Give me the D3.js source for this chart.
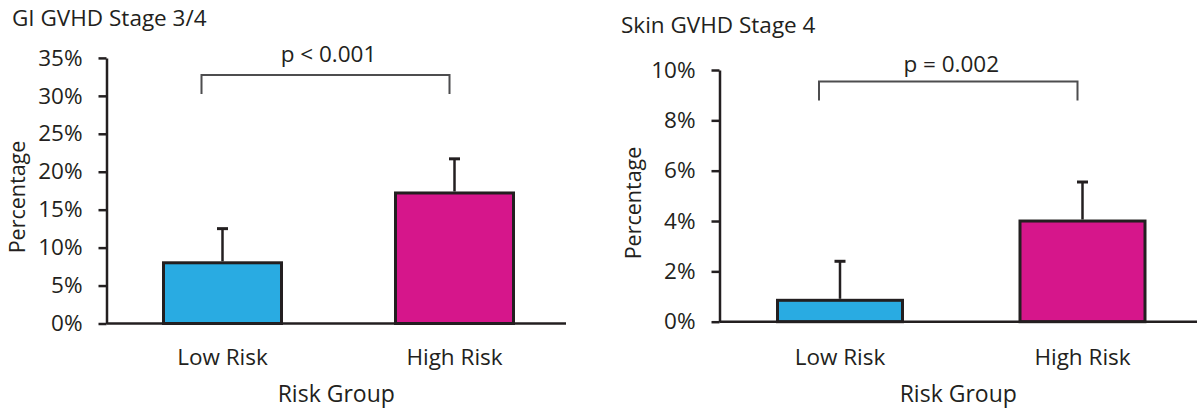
<!DOCTYPE html>
<html>
<head>
<meta charset="utf-8">
<script src="https://cdn.jsdelivr.net/npm/d3@7"></script>
<style>
  html, body { margin: 0; padding: 0; background: #fff; }
  svg { display: block; }
  text { font-family: "Open Sans", "Noto Sans", sans-serif; fill: #231f20; }
</style>
</head>
<body>
<div id="chart"></div>
<script>
const categories = ["Low Risk", "High Risk"];
const barColors = ["#29abe2", "#d6168b"];

// GI GVHD Stage 3/4
const giValues = [8.0, 17.2];
const giErrorTops = [12.5, 21.7];
const giTicks = [0, 5, 10, 15, 20, 25, 30, 35];
const giPValue = "p < 0.001";

// Skin GVHD Stage 4
const skinValues = [0.85, 4.0];
const skinErrorTops = [2.4, 5.55];
const skinTicks = [0, 2, 4, 6, 8, 10];
const skinPValue = "p = 0.002";

const ink = "#231f20";

const svg = d3.select("#chart")
    .append("svg")
    .attr("width", 1198)
    .attr("height", 412);

const panels = [
    {
        title: "GI GVHD Stage 3/4", titleX: 12, titleY: 26,
        values: giValues, errors: giErrorTops, ticks: giTicks, pText: giPValue,
        yMax: 35, axisX: 106.5, base: 323.5, top: 57.9, xEnd: 566,
        step: 232, barW: 118, firstCenter: 222.5,
        bracketY: 75, bracketDrop: 19, pY: 62, ylabelX: 25, ylabelY: 197
    },
    {
        title: "Skin GVHD Stage 4", titleX: 621, titleY: 33,
        values: skinValues, errors: skinErrorTops, ticks: skinTicks, pText: skinPValue,
        yMax: 10, axisX: 719.5, base: 321.7, top: 70, xEnd: 1197,
        step: 242.5, barW: 125, firstCenter: 840,
        bracketY: 81.5, bracketDrop: 19, pY: 72, ylabelX: 641, ylabelY: 203
    }
];

panels.forEach(p => {
    const g = svg.append("g");

    const y = d3.scaleLinear()
        .domain([0, p.yMax])
        .range([p.base, p.top]);

    const x = d3.scaleBand()
        .domain(categories)
        .range([p.firstCenter - p.step / 2, p.firstCenter + p.step * 1.5])
        .paddingInner(1 - p.barW / p.step)
        .paddingOuter((1 - p.barW / p.step) / 2);

    // title
    g.append("text")
        .attr("x", p.titleX)
        .attr("y", p.titleY)
        .attr("font-size", 22.5)
        .text(p.title);

    // y axis
    const yAxis = d3.axisLeft(y)
        .tickValues(p.ticks)
        .tickSize(8)
        .tickSizeOuter(0)
        .tickPadding(16)
        .tickFormat(d => d + "%");

    const ya = g.append("g")
        .attr("transform", `translate(${p.axisX},0)`)
        .call(yAxis);
    ya.select(".domain").attr("stroke", ink).attr("stroke-width", 2.5);
    ya.selectAll(".tick line").attr("stroke", ink).attr("stroke-width", 2.5);
    ya.selectAll(".tick text")
        .attr("font-size", 22.5)
        .attr("font-family", "\"Open Sans\", sans-serif")
        .attr("fill", ink);

    // y label
    g.append("text")
        .attr("transform", `translate(${p.ylabelX},${p.ylabelY}) rotate(-90)`)
        .attr("text-anchor", "middle")
        .attr("font-size", 21.5)
        .text("Percentage");

    // bars
    g.selectAll("rect.bar")
        .data(p.values)
        .join("rect")
        .attr("class", "bar")
        .attr("x", (d, i) => x(categories[i]))
        .attr("y", d => y(d))
        .attr("width", x.bandwidth())
        .attr("height", d => y(0) - y(d))
        .attr("fill", (d, i) => barColors[i])
        .attr("stroke", ink)
        .attr("stroke-width", 3);

    // error bars
    const cx = i => x(categories[i]) + x.bandwidth() / 2;
    g.selectAll("line.err")
        .data(p.errors)
        .join("line")
        .attr("class", "err")
        .attr("x1", (d, i) => cx(i))
        .attr("x2", (d, i) => cx(i))
        .attr("y1", (d, i) => y(p.values[i]) - 1.5)
        .attr("y2", d => y(d))
        .attr("stroke", ink)
        .attr("stroke-width", 2.5);
    g.selectAll("line.cap")
        .data(p.errors)
        .join("line")
        .attr("class", "cap")
        .attr("x1", (d, i) => cx(i) - 5.5)
        .attr("x2", (d, i) => cx(i) + 5.5)
        .attr("y1", d => y(d))
        .attr("y2", d => y(d))
        .attr("stroke", ink)
        .attr("stroke-width", 3);

    // x axis line
    g.append("line")
        .attr("x1", p.axisX)
        .attr("x2", p.xEnd)
        .attr("y1", y(0))
        .attr("y2", y(0))
        .attr("stroke", ink)
        .attr("stroke-width", 2.5);

    // category labels
    g.selectAll("text.cat")
        .data(categories)
        .join("text")
        .attr("class", "cat")
        .attr("x", d => x(d) + x.bandwidth() / 2)
        .attr("y", 365)
        .attr("text-anchor", "middle")
        .attr("font-size", 22.5)
        .text(d => d);

    g.append("text")
        .attr("x", (p.axisX + p.xEnd) / 2)
        .attr("y", 402)
        .attr("text-anchor", "middle")
        .attr("font-size", 23)
        .text("Risk Group");

    // significance bracket
    const bx0 = cx(0) - 21, bx1 = cx(1) - 5;
    g.append("path")
        .attr("d", `M${bx0},${p.bracketY + p.bracketDrop}V${p.bracketY}H${bx1}V${p.bracketY + p.bracketDrop}`)
        .attr("fill", "none")
        .attr("stroke", "#4d4d4f")
        .attr("stroke-width", 2);

    g.append("text")
        .attr("x", (bx0 + bx1) / 2 + 3)
        .attr("y", p.pY)
        .attr("text-anchor", "middle")
        .attr("font-size", 22.5)
        .text(p.pText);
});
</script>
</body>
</html>
